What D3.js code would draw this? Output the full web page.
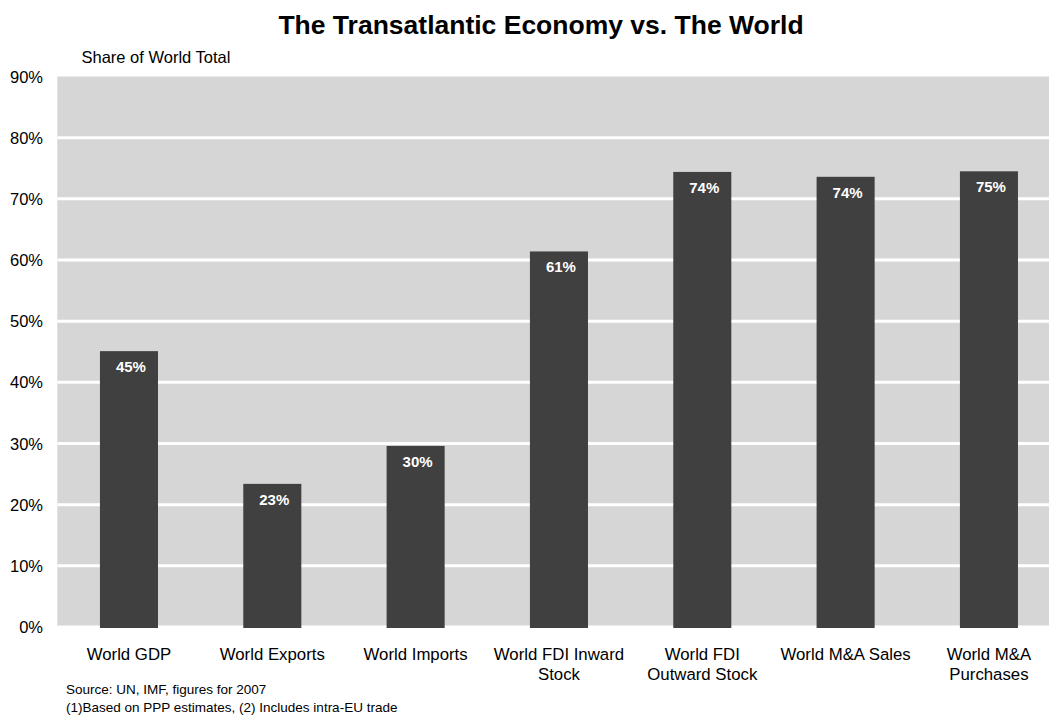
<!DOCTYPE html>
<html>
<head>
<meta charset="utf-8">
<script src="https://cdn.jsdelivr.net/npm/d3@7"></script>
<style>
  html, body { margin: 0; padding: 0; background: #fff; }
  svg { display: block; font-family: "Liberation Sans", Arial, sans-serif; }
</style>
</head>
<body>
<svg id="chart" width="1049" height="717"></svg>
<script>
// Transatlantic share of world totals (percent)
const categories = [
  ["World GDP"],
  ["World Exports"],
  ["World Imports"],
  ["World FDI Inward", "Stock"],
  ["World FDI", "Outward Stock"],
  ["World M&A Sales"],
  ["World M&A", "Purchases"]
];
const shares = [45.1, 23.4, 29.6, 61.4, 74.4, 73.6, 74.5];
const yTicks = [0, 10, 20, 30, 40, 50, 60, 70, 80, 90];
const titleText = "The Transatlantic Economy vs. The World";
const axisTitle = "Share of World Total";
const footnotes = [
  "Source: UN, IMF, figures for 2007",
  "(1)Based on PPP estimates, (2) Includes intra-EU trade"
];

const svg = d3.select("#chart");
const W = 1049;
const plot = { left: 57.3, top: 76.5, bottom: 627 };
const step = 143.33;

const x = d3.scaleBand()
  .domain(d3.range(categories.length))
  .range([plot.left, plot.left + step * categories.length])
  .paddingInner(0.595)
  .paddingOuter(0.2975);

const y = d3.scaleLinear().domain([0, 90]).range([plot.bottom, plot.top]);

// plot background
svg.append("rect")
  .attr("x", plot.left).attr("y", plot.top)
  .attr("width", W - plot.left).attr("height", plot.bottom - plot.top)
  .attr("fill", "#d6d6d6");

// white horizontal gridlines
svg.append("g").selectAll("line")
  .data(yTicks.filter(t => t < 90))
  .join("line")
  .attr("x1", plot.left).attr("x2", W)
  .attr("y1", d => y(d)).attr("y2", d => y(d))
  .attr("stroke", "#ffffff").attr("stroke-width", 3);

// bars
svg.append("g").selectAll("rect")
  .data(shares)
  .join("rect")
  .attr("x", (d, i) => x(i))
  .attr("y", d => y(d))
  .attr("width", x.bandwidth())
  .attr("height", d => plot.bottom + 1 - y(d))
  .attr("fill", "#404040");

// value labels inside bars
svg.append("g").selectAll("text")
  .data(shares)
  .join("text")
  .attr("x", (d, i) => x(i) + x.bandwidth() / 2 + 2)
  .attr("y", d => y(d) + 21)
  .attr("text-anchor", "middle")
  .attr("font-size", 15)
  .attr("font-weight", "bold")
  .attr("fill", "#ffffff")
  .text(d => Math.round(d) + "%");

// y axis labels
svg.append("g").selectAll("text")
  .data(yTicks)
  .join("text")
  .attr("x", 43)
  .attr("y", d => y(d) + 6)
  .attr("text-anchor", "end")
  .attr("font-size", 16.5)
  .attr("fill", "#000")
  .text(d => d + "%");

// category labels
const cat = svg.append("g").selectAll("text")
  .data(categories)
  .join("text")
  .attr("text-anchor", "middle")
  .attr("font-size", 16.8)
  .attr("fill", "#000");
cat.selectAll("tspan")
  .data((d, i) => d.map(line => ({ line, i })))
  .join("tspan")
  .attr("x", d => x(d.i) + x.bandwidth() / 2)
  .attr("y", (d, j) => 660 + j * 20)
  .text(d => d.line);

// title
svg.append("text")
  .attr("x", 541).attr("y", 34)
  .attr("text-anchor", "middle")
  .attr("font-size", 26.5)
  .attr("font-weight", "bold")
  .attr("fill", "#000")
  .text(titleText);

// axis caption
svg.append("text")
  .attr("x", 81.5).attr("y", 62.5)
  .attr("font-size", 16.5)
  .attr("fill", "#000")
  .text(axisTitle);

// footnotes
svg.append("g").selectAll("text")
  .data(footnotes)
  .join("text")
  .attr("x", 66).attr("y", (d, i) => 694 + i * 18)
  .attr("font-size", 13.5)
  .attr("fill", "#000")
  .text(d => d);
</script>
</body>
</html>
